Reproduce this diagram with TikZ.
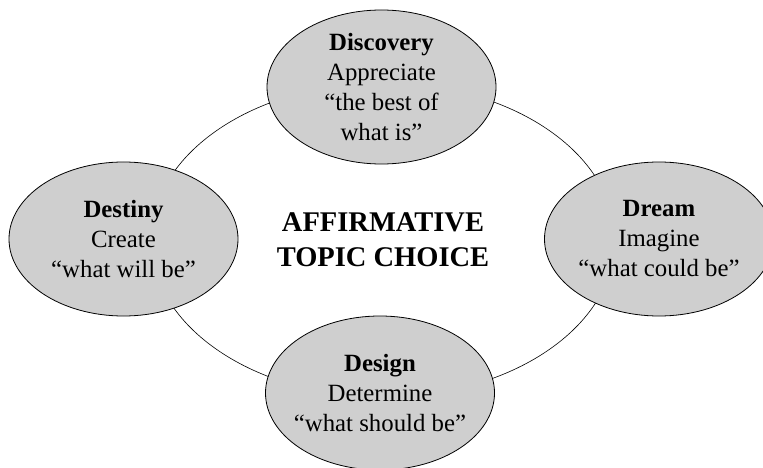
\documentclass[tikz,border=0pt]{standalone}
\usepackage{fontspec}
\setmainfont{Liberation Serif}
\usetikzlibrary{shapes.geometric}
\definecolor{phaseFill}{HTML}{CFCFCF}
\newcommand{\phaseText}[3]{\textbf{#1}\\#2\\#3}

\begin{document}
\begin{tikzpicture}[x=1pt,y=-1pt,
  phase/.style={ellipse, draw, line width=0.8pt, fill=phaseFill, inner sep=0pt, minimum width=229pt, minimum height=154pt},
  phasetext/.style={align=center, inner sep=0pt, font=\fontsize{24.8}{30}\selectfont},
  topic/.style={align=center, inner sep=0pt, font=\fontsize{28.5}{35}\selectfont\bfseries}]
\clip (0,0) rectangle (763,468);
% the ring the four phases sit on
\node[ellipse, draw, line width=0.6pt, inner sep=0pt, minimum width=464pt, minimum height=314pt] (ring) at (383,240) {};
% phases
\node[phase] (discovery) at (381.5,87) {};
\node[phase] (dream) at (659,239) {};
\node[phase] (design) at (380,393) {};
\node[phase] (destiny) at (123.5,239) {};
\node[phasetext] (discoveryText) at (discovery) {\phaseText{Discovery}{Appreciate}{“the best of\\what is”}};
\node[phasetext] (dreamText) at (dream) {\phaseText{Dream}{Imagine}{“what could be”}};
\node[phasetext] (designText) at (design) {\phaseText{Design}{Determine}{“what should be”}};
\node[phasetext] (destinyText) at (destiny) {\phaseText{Destiny}{Create}{“what will be”}};
\node[topic] (topicChoice) at (ring) {AFFIRMATIVE\\TOPIC CHOICE};
\end{tikzpicture}
\end{document}
